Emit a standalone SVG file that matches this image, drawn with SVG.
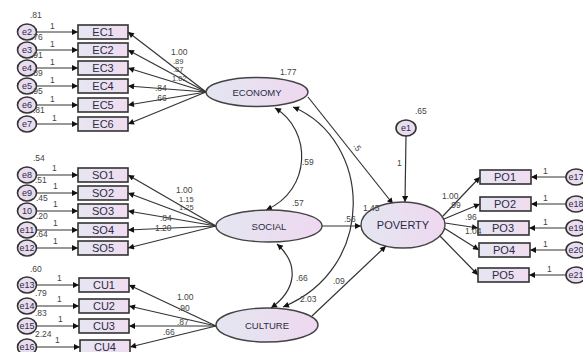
<svg xmlns="http://www.w3.org/2000/svg" width="583" height="352" viewBox="0 0 583 352">
<defs>
<linearGradient id="gr" x1="0" y1="0" x2="1" y2="0"><stop offset="0" stop-color="#e6e6f1"/><stop offset="1" stop-color="#f0dcf0"/></linearGradient>
<linearGradient id="ge" x1="0" y1="0" x2="1" y2="0"><stop offset="0" stop-color="#e3e6f0"/><stop offset="1" stop-color="#efd8f0"/></linearGradient>
<marker id="ah" viewBox="0 0 10 10" refX="10" refY="5" markerWidth="9" markerHeight="6" markerUnits="userSpaceOnUse" orient="auto-start-reverse"><path d="M0,0 L10,5 L0,10 z" fill="#111"/></marker>
</defs>
<style>
.r{fill:url(#gr);stroke:#333;stroke-width:1.6}
.c{fill:#e9dcef;stroke:#333;stroke-width:1.6}
.el{fill:url(#ge);stroke:#444;stroke-width:1.4}
.t{font-family:"Liberation Sans",Arial,sans-serif;font-size:11px;fill:#2b2b45;text-anchor:middle}
.et{font-family:"Liberation Sans",Arial,sans-serif;font-size:9px;fill:#2b2b45;text-anchor:middle}
.lt{font-family:"Liberation Sans",Arial,sans-serif;font-size:9.5px;fill:#2b2b45;text-anchor:middle}
.n{font-family:"Liberation Sans",Arial,sans-serif;font-size:8.5px;fill:#444}
.s{font-size:7.5px}
.ln{fill:none;stroke:#333;stroke-width:1.2;marker-end:url(#ah)}
.cv{fill:none;stroke:#333;stroke-width:1.2;marker-end:url(#ah);marker-start:url(#ah)}
</style>
<rect width="583" height="352" fill="#fff"/>
<g id="connectors">
<path class="ln" d="M36,32 H78"/><path class="ln" d="M36,50 H78"/><path class="ln" d="M36,68 H78"/><path class="ln" d="M36,86 H78"/><path class="ln" d="M36,105 H78"/><path class="ln" d="M36,124 H78"/>
<path class="ln" d="M36,175 H78"/><path class="ln" d="M36,193 H78"/><path class="ln" d="M36,211 H78"/><path class="ln" d="M36,230 H78"/><path class="ln" d="M36,248 H78"/>
<path class="ln" d="M36,285 H79"/><path class="ln" d="M36,306 H79"/><path class="ln" d="M36,326 H79"/><path class="ln" d="M36,347 H80"/>
<path class="ln" d="M206,92 L128,32"/><path class="ln" d="M206,92 L128,50"/><path class="ln" d="M206,92 L128,68"/><path class="ln" d="M206,92 L128,86"/><path class="ln" d="M206,92 L128,105"/><path class="ln" d="M206,92 L128,124"/>
<path class="ln" d="M216,226 L128,175"/><path class="ln" d="M216,226 L128,193"/><path class="ln" d="M216,226 L128,211"/><path class="ln" d="M216,226 L128,230"/><path class="ln" d="M216,226 L128,248"/>
<path class="ln" d="M216,326 L129,285"/><path class="ln" d="M216,326 L129,306"/><path class="ln" d="M216,326 L129,326"/><path class="ln" d="M216,326 L130,347"/>
<path class="cv" d="M275,108 C312,130 312,190 266,210"/>
<path class="cv" d="M293,107 C372,140 378,268 283,307"/>
<path class="cv" d="M277,244 C300,265 296,290 271,308"/>
<path class="ln" d="M308,97 L393,204"/>
<path class="ln" d="M322,226 L361,226"/>
<path class="ln" d="M312,316 L386,246"/>
<path class="ln" d="M406,136 L405,202"/>
<path class="ln" d="M443,216 L480,177"/><path class="ln" d="M444,219 L480,204"/><path class="ln" d="M445,223 L478,228"/><path class="ln" d="M444,228 L479,250"/><path class="ln" d="M440,236 L478,275"/>
<path class="ln" d="M566,177 H531"/><path class="ln" d="M566,204 H531"/><path class="ln" d="M566,228 H529"/><path class="ln" d="M566,250 H530"/><path class="ln" d="M566,275 H529"/>
</g>
<g id="EC1"><rect class="r" x="78" y="25" width="50" height="14"/><text class="t" x="103" y="36">EC1</text></g>
<g id="EC2"><rect class="r" x="78" y="43" width="50" height="14"/><text class="t" x="103" y="54">EC2</text></g>
<g id="EC3"><rect class="r" x="78" y="61" width="50" height="14"/><text class="t" x="103" y="72">EC3</text></g>
<g id="EC4"><rect class="r" x="78" y="79" width="50" height="14"/><text class="t" x="103" y="90">EC4</text></g>
<g id="EC5"><rect class="r" x="78" y="98" width="50" height="14"/><text class="t" x="103" y="109">EC5</text></g>
<g id="EC6"><rect class="r" x="78" y="117" width="50" height="14"/><text class="t" x="103" y="128">EC6</text></g>
<g id="SO1"><rect class="r" x="78" y="168" width="50" height="14"/><text class="t" x="103" y="179">SO1</text></g>
<g id="SO2"><rect class="r" x="78" y="186" width="50" height="14"/><text class="t" x="103" y="197">SO2</text></g>
<g id="SO3"><rect class="r" x="78" y="204" width="50" height="14"/><text class="t" x="103" y="215">SO3</text></g>
<g id="SO4"><rect class="r" x="78" y="223" width="50" height="14"/><text class="t" x="103" y="234">SO4</text></g>
<g id="SO5"><rect class="r" x="78" y="241" width="50" height="14"/><text class="t" x="103" y="252">SO5</text></g>
<g id="CU1"><rect class="r" x="79" y="278" width="50" height="14"/><text class="t" x="104" y="289">CU1</text></g>
<g id="CU2"><rect class="r" x="79" y="299" width="50" height="14"/><text class="t" x="104" y="310">CU2</text></g>
<g id="CU3"><rect class="r" x="79" y="319" width="50" height="14"/><text class="t" x="104" y="330">CU3</text></g>
<g id="CU4"><rect class="r" x="80" y="340" width="50" height="14"/><text class="t" x="105" y="351">CU4</text></g>
<g id="PO1"><rect class="r" x="480" y="170" width="51" height="14"/><text class="t" x="505" y="181">PO1</text></g>
<g id="PO2"><rect class="r" x="480" y="197" width="51" height="14"/><text class="t" x="505" y="208">PO2</text></g>
<g id="PO3"><rect class="r" x="478" y="221" width="51" height="14"/><text class="t" x="503" y="232">PO3</text></g>
<g id="PO4"><rect class="r" x="479" y="243" width="51" height="14"/><text class="t" x="504" y="254">PO4</text></g>
<g id="PO5"><rect class="r" x="478" y="268" width="51" height="14"/><text class="t" x="503" y="279">PO5</text></g>
<g id="e2"><ellipse class="c" cx="27" cy="32" rx="9.5" ry="8"/><text class="et" x="27" y="35">e2</text></g>
<g id="e3"><ellipse class="c" cx="27" cy="50" rx="9.5" ry="8"/><text class="et" x="27" y="53">e3</text></g>
<g id="e4"><ellipse class="c" cx="27" cy="68" rx="9.5" ry="8"/><text class="et" x="27" y="71">e4</text></g>
<g id="e5"><ellipse class="c" cx="27" cy="86" rx="9.5" ry="8"/><text class="et" x="27" y="89">e5</text></g>
<g id="e6"><ellipse class="c" cx="27" cy="105" rx="9.5" ry="8"/><text class="et" x="27" y="108">e6</text></g>
<g id="e7"><ellipse class="c" cx="27" cy="124" rx="9.5" ry="8"/><text class="et" x="27" y="127">e7</text></g>
<g id="e8"><ellipse class="c" cx="27" cy="175" rx="9.5" ry="8"/><text class="et" x="27" y="178">e8</text></g>
<g id="e9"><ellipse class="c" cx="27" cy="193" rx="9.5" ry="8"/><text class="et" x="27" y="196">e9</text></g>
<g id="e10"><ellipse class="c" cx="27" cy="211" rx="9.5" ry="8"/><text class="et" x="27" y="214">10</text></g>
<g id="e11"><ellipse class="c" cx="27" cy="230" rx="9.5" ry="8"/><text class="et" x="27" y="233">e11</text></g>
<g id="e12"><ellipse class="c" cx="27" cy="248" rx="9.5" ry="8"/><text class="et" x="27" y="251">e12</text></g>
<g id="e13"><ellipse class="c" cx="27" cy="285" rx="9.5" ry="8"/><text class="et" x="27" y="288">e13</text></g>
<g id="e14"><ellipse class="c" cx="27" cy="306" rx="9.5" ry="8"/><text class="et" x="27" y="309">e14</text></g>
<g id="e15"><ellipse class="c" cx="27" cy="326" rx="9.5" ry="8"/><text class="et" x="27" y="329">e15</text></g>
<g id="e16"><ellipse class="c" cx="27" cy="347" rx="9.5" ry="8"/><text class="et" x="27" y="350">e16</text></g>
<g id="e1"><ellipse class="c" cx="406" cy="128" rx="10" ry="8"/><text class="et" x="406" y="131">e1</text></g>
<g id="e17"><ellipse class="c" cx="576" cy="177" rx="10" ry="8"/><text class="et" x="576" y="180">e17</text></g>
<g id="e18"><ellipse class="c" cx="576" cy="204" rx="10" ry="8"/><text class="et" x="576" y="207">e18</text></g>
<g id="e19"><ellipse class="c" cx="576" cy="228" rx="10" ry="8"/><text class="et" x="576" y="231">e19</text></g>
<g id="e20"><ellipse class="c" cx="576" cy="250" rx="10" ry="8"/><text class="et" x="576" y="253">e20</text></g>
<g id="e21"><ellipse class="c" cx="576" cy="275" rx="10" ry="8"/><text class="et" x="576" y="278">e21</text></g>
<g id="ECONOMY"><ellipse class="el" cx="257" cy="92" rx="51" ry="14.5"/><text class="lt" x="257" y="95.5">ECONOMY</text></g>
<g id="SOCIAL"><ellipse class="el" cx="269" cy="226" rx="53" ry="16"/><text class="lt" x="269" y="229.5">SOCIAL</text></g>
<g id="CULTURE"><ellipse class="el" cx="267" cy="325" rx="51" ry="17"/><text class="lt" x="267" y="328.5">CULTURE</text></g>
<g id="POVERTY"><ellipse class="el" cx="403" cy="225" rx="42" ry="23"/><text class="t" x="403" y="229">POVERTY</text></g>
<g id="labels">
<text class="n" x="30" y="18">.81</text>
<text class="n" x="31" y="40">.76</text><text class="n" x="31" y="58">.91</text><text class="n" x="31" y="76">.89</text><text class="n" x="31" y="94">.95</text><text class="n" x="33" y="113">.81</text>
<text class="n" x="50" y="29">1</text><text class="n" x="50" y="47">1</text><text class="n" x="50" y="65">1</text><text class="n" x="50" y="83">1</text><text class="n" x="50" y="102">1</text><text class="n" x="52" y="121">1</text>
<text class="n" x="171" y="55">1.00</text><text class="n s" x="173" y="63.5">.89</text><text class="n s" x="173" y="72">.87</text><text class="n s" x="172" y="80.5">1.02</text><text class="n" x="155" y="91">.84</text><text class="n" x="155" y="101">.66</text>
<text class="n" x="280" y="75">1.77</text>
<text class="n" x="33" y="161">.54</text>
<text class="n" x="35" y="183">.51</text><text class="n" x="36" y="201">.45</text><text class="n" x="36" y="219">.20</text><text class="n" x="36" y="237">.64</text>
<text class="n" x="52" y="171">1</text><text class="n" x="53" y="189">1</text><text class="n" x="53" y="207">1</text><text class="n" x="53" y="226">1</text><text class="n" x="53" y="244">1</text>
<text class="n" x="176" y="193">1.00</text><text class="n s" x="179" y="201.5">1.15</text><text class="n s" x="179" y="210">1.25</text><text class="n" x="160" y="221">.84</text><text class="n" x="155" y="231">1.20</text>
<text class="n" x="292" y="206">.57</text>
<text class="n" x="30" y="272">.60</text>
<text class="n" x="35" y="296">.79</text><text class="n" x="35" y="316">.83</text><text class="n" x="35" y="337">2.24</text>
<text class="n" x="57" y="281">1</text><text class="n" x="57" y="302">1</text><text class="n" x="58" y="322">1</text><text class="n" x="55" y="343">1</text>
<text class="n" x="177" y="300">1.00</text><text class="n" x="178" y="311">.90</text><text class="n" x="177" y="325">.87</text><text class="n" x="163" y="335">.66</text>
<text class="n" x="302" y="165">.59</text>
<text class="n" x="296" y="281">.66</text>
<text class="n" x="300" y="302">2.03</text>
<text class="n" x="333" y="284">.09</text>
<text class="n" x="344" y="222">.56</text>
<text class="n" x="363" y="211">1.45</text>
<text class="n" transform="translate(353,146) rotate(55)">.5</text>
<text class="n" x="415" y="114">.65</text>
<text class="n" x="397" y="166">1</text>
<text class="n" x="442" y="199">1.00</text><text class="n" x="449" y="208">.99</text><text class="n" x="465" y="220">.96</text><text class="n" x="465" y="234">1.04</text>
<text class="n" x="543" y="174">1</text><text class="n" x="543" y="201">1</text><text class="n" x="543" y="225">1</text><text class="n" x="543" y="247">1</text><text class="n" x="547" y="272">1</text>
</g>
</svg>
